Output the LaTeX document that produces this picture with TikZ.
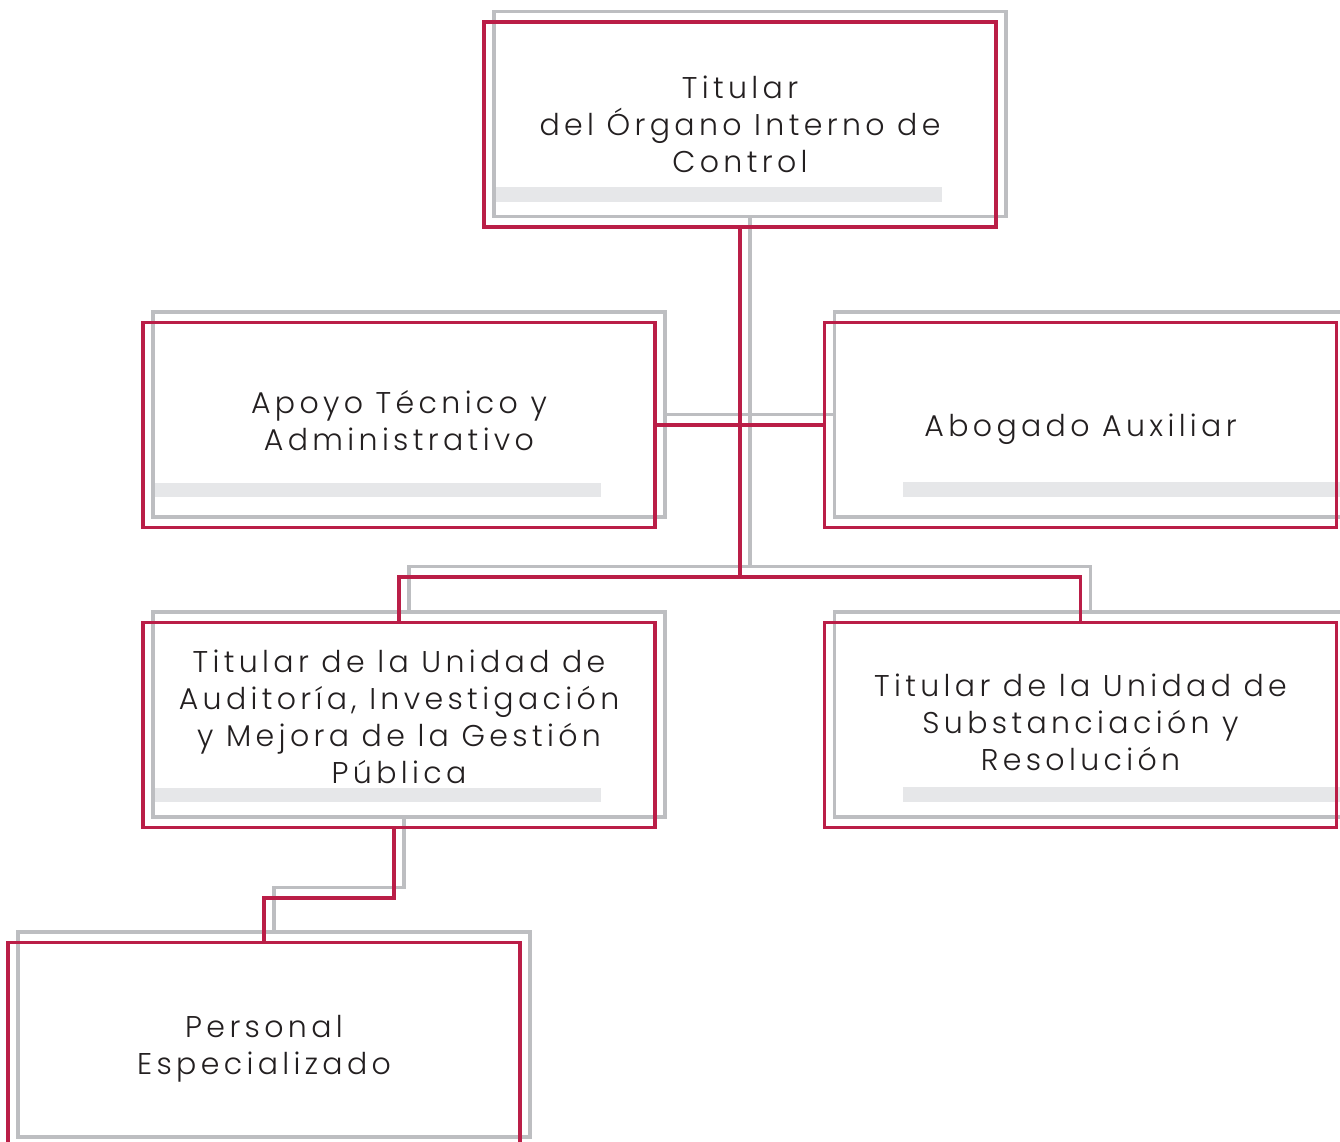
\documentclass[tikz,border=0pt]{standalone}
\usepackage{fontspec}
\IfFontExistsTF{Poppins Light}
    {\setmainfont{Poppins Light}[LetterSpace=14.5]}
    {\setmainfont{Poppins}[LetterSpace=14.5]}
\usetikzlibrary{backgrounds}
\definecolor{guinda}{HTML}{BA1E47}
\definecolor{marco}{HTML}{BDBEC1}
\definecolor{franja}{HTML}{E6E7E9}
\definecolor{tinta}{HTML}{231F20}

\begin{document}
\begin{tikzpicture}[x=1pt, y=-1pt, line join=miter, font=\fontsize{30}{37}\selectfont]
    \tikzstyle{unidad}=[draw=guinda, line width=3.8pt, minimum width=512pt, minimum height=205pt, align=center, text=tinta, inner sep=0pt, outer sep=0pt]
    \tikzstyle{rojo}=[draw=guinda, line width=3.8pt]
    \tikzstyle{gris}=[draw=marco, line width=3.8pt]
    \tikzstyle{barra}=[fill=franja]
    \tikzstyle{sombra}=[shift={(10,-10.5)}]
    \useasboundingbox (0,0) rectangle (1340,1141);

    \node[unidad]   (toc)       at (740,124.5)  {Titular\\del Órgano Interno de\\Control};
    \node[unidad]   (apoyo)     at (399,425)    [text depth=9pt]{Apoyo Técnico y\\Administrativo};
    \node[unidad]   (abogado)   at (1080.5,425) [text depth=0pt]{Abogado Auxiliar};
    \node[unidad]   (audit)     at (399,725)    [text depth=16pt]{Titular de la Unidad de\\Auditoría, Investigación\\y Mejora de la Gestión\\Pública};
    \node[unidad]   (subst)     at (1080.5,725) [text depth=6pt]{Titular de la Unidad de\\Substanciación y\\Resolución};
    \node[unidad]   (personal)  at (264,1045)   [text depth=0pt]{Personal\\Especializado};

    \coordinate (reparto) at (740,577);
    \coordinate (quiebre) at (330,898);

    % marcos grises detras
    \begin{scope}[on background layer]
        \foreach \u/\a/\b in {toc/-25/-40, audit/-26/-40, apoyo/-31/-45}
            \fill[barra] ([shift={(10,\a)}]\u.south west) rectangle ([shift={(458,\b)}]\u.south west);
        \foreach \u/\a/\b in {abogado/-31/-46, subst/-26/-41}
            \fill[barra] ([shift={(78,\a)}]\u.south west) rectangle ([shift={(12,\b)}]\u.south east);
        \foreach \u in {toc,apoyo,abogado,audit,subst,personal}
            \draw[gris] ([sombra]\u.south west) rectangle ([sombra]\u.north east);
        \draw[gris] ([sombra]toc.south) -- ([sombra]reparto);
        \draw[gris] ([sombra]audit.north) |- ([sombra]reparto) -| ([sombra]subst.north);
        \draw[gris] ([sombra]apoyo.east) -- ([sombra]abogado.west);
        \draw[gris] ([sombra,xshift=-5]audit.south) |- ([sombra]quiebre) -| ([sombra]personal.north);
    \end{scope}

    \draw[rojo] (toc.south) -- (reparto);
    \draw[rojo] (audit.north) |- (reparto) -| (subst.north);
    \draw[rojo] (apoyo.east) -- (abogado.west);
    \draw[rojo] ([xshift=-5]audit.south) |- (quiebre) -| (personal.north);
\end{tikzpicture}
\end{document}
